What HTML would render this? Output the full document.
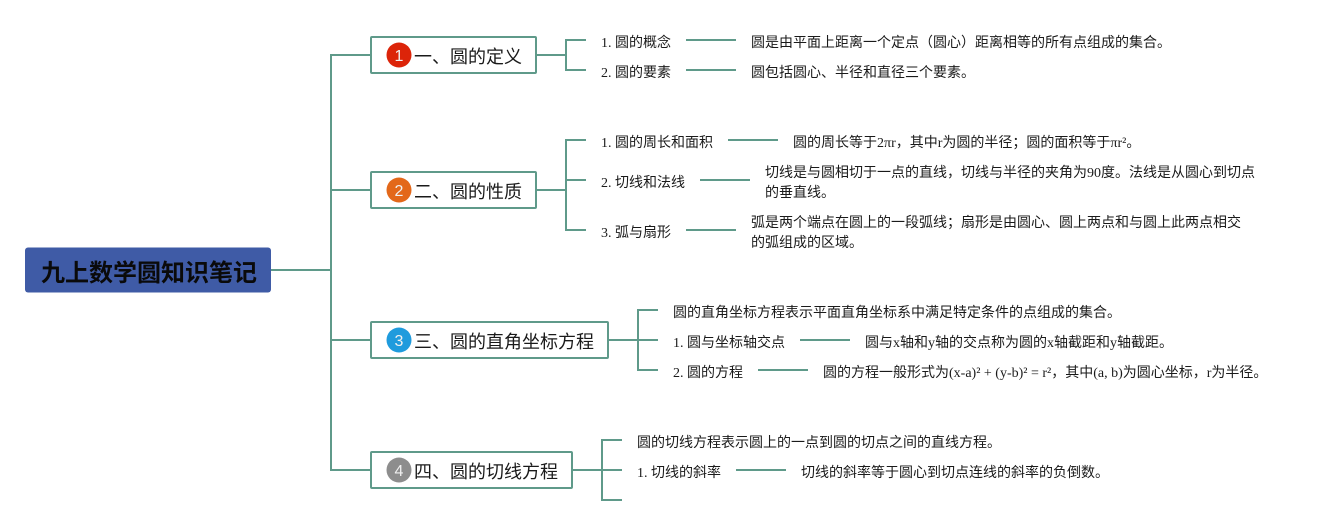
<!DOCTYPE html>
<html lang="zh">
<head>
<meta charset="utf-8">
<style>
html,body{margin:0;padding:0;background:#fff;}
svg{display:block;}
text{font-family:"Liberation Serif","WenQuanYi Zen Hei","Noto Sans CJK SC",serif;font-size:14px;fill:#1a1a1a;}
.t{font-size:18px;}
.r{font-size:24px;font-weight:bold;fill:#0a0a0a;font-family:"Liberation Sans","Noto Sans CJK SC",sans-serif;}
.n{font-family:"Liberation Sans",sans-serif;font-size:16px;fill:#f0f0f0;text-anchor:middle;}
.l{fill:none;stroke:#5f9a8a;stroke-width:2;}
.b{fill:#fff;stroke:#5f9a8a;stroke-width:2;}
</style>
</head>
<body>
<svg width="1328" height="525" viewBox="0 0 1328 525" xmlns="http://www.w3.org/2000/svg">
<rect width="1328" height="525" fill="#fff"/>
<path class="l" d="M271 270H331M371 55H331V470H371M331 190H371M331 340H371"/>
<path class="l" d="M536 55H566M586 40H566V70H586"/>
<path class="l" d="M686 40H736M686 70H736"/>
<path class="l" d="M536 190H566M586 140H566V230H586M566 180H586"/>
<path class="l" d="M728 140H778M700 180H750M686 230H736"/>
<path class="l" d="M608 340H658M658 310H638V370H658"/>
<path class="l" d="M800 340H850M758 370H808"/>
<path class="l" d="M572 470H622M622 440H602V500H622"/>
<path class="l" d="M736 470H786"/>
<rect x="25" y="247.500" width="246" height="45" rx="3" fill="#3f5ba6"/>
<text class="r" x="41" y="281">九上数学圆知识笔记</text>
<rect class="b" x="371" y="37" width="165" height="36" rx="1"/>
<rect class="b" x="371" y="172" width="165" height="36" rx="1"/>
<rect class="b" x="371" y="322" width="237" height="36" rx="1"/>
<rect class="b" x="371" y="452" width="201" height="36" rx="1"/>
<circle cx="399" cy="55" r="12.500" fill="#dc2409"/>
<circle cx="399" cy="190" r="12.500" fill="#e3681a"/>
<circle cx="399" cy="340" r="12.500" fill="#1f9bdd"/>
<circle cx="399" cy="470" r="12.500" fill="#8d8d8d"/>
<text class="n" x="399" y="61">1</text>
<text class="n" x="399" y="196">2</text>
<text class="n" x="399" y="346">3</text>
<text class="n" x="399" y="476">4</text>
<g transform="translate(0,1)">
<text class="t" x="414" y="62">一、圆的定义</text>
<text class="t" x="414" y="197">二、圆的性质</text>
<text class="t" x="414" y="347">三、圆的直角坐标方程</text>
<text class="t" x="414" y="477">四、圆的切线方程</text>
<text x="601" y="46">1. 圆的概念</text>
<text x="601" y="76">2. 圆的要素</text>
<text x="751" y="46">圆是由平面上距离一个定点（圆心）距离相等的所有点组成的集合。</text>
<text x="751" y="76">圆包括圆心、半径和直径三个要素。</text>
<text x="601" y="146">1. 圆的周长和面积</text>
<text x="601" y="186">2. 切线和法线</text>
<text x="601" y="236">3. 弧与扇形</text>
<text x="793" y="146">圆的周长等于2πr，其中r为圆的半径；圆的面积等于πr²。</text>
<text x="765" y="176">切线是与圆相切于一点的直线，切线与半径的夹角为90度。法线是从圆心到切点</text>
<text x="765" y="196">的垂直线。</text>
<text x="751" y="226">弧是两个端点在圆上的一段弧线；扇形是由圆心、圆上两点和与圆上此两点相交</text>
<text x="751" y="246">的弧组成的区域。</text>
<text x="673" y="316">圆的直角坐标方程表示平面直角坐标系中满足特定条件的点组成的集合。</text>
<text x="673" y="346">1. 圆与坐标轴交点</text>
<text x="673" y="376">2. 圆的方程</text>
<text x="865" y="346">圆与x轴和y轴的交点称为圆的x轴截距和y轴截距。</text>
<text x="823" y="376">圆的方程一般形式为(x-a)² + (y-b)² = r²，其中(a, b)为圆心坐标，r为半径。</text>
<text x="637" y="446">圆的切线方程表示圆上的一点到圆的切点之间的直线方程。</text>
<text x="637" y="476">1. 切线的斜率</text>
<text x="801" y="476">切线的斜率等于圆心到切点连线的斜率的负倒数。</text>
</g>
</svg>
</body>
</html>
